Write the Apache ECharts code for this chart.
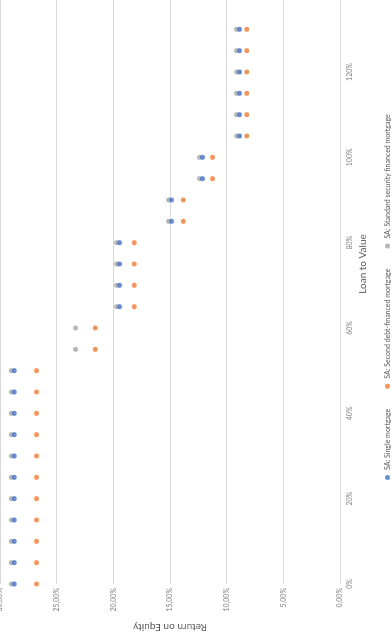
<!DOCTYPE html>
<html>
<head>
<meta charset="utf-8">
<script src="https://cdn.jsdelivr.net/npm/echarts@6/dist/echarts.min.js"></script>
<style>
  html, body { margin: 0; padding: 0; background: #ffffff; }
  body { width: 392px; height: 632px; overflow: hidden; position: relative; }
  /* chart is drawn landscape, then turned a quarter left like the reference */
  #chart {
    position: absolute; left: 0; top: 0;
    width: 700px; height: 392px;
    transform-origin: 0 0;
    transform: translateY(632px) rotate(-90deg);
  }
</style>
</head>
<body>
<div id="chart"></div>
<script>
// Loan to Value (%)
const ltv = [0, 5, 10, 15, 20, 25, 30, 35, 40, 45, 50, 55, 60, 65, 70, 75, 80, 85, 90, 95, 100, 105, 110, 115, 120, 125, 130];

// Return on Equity (%); '-' = no visible point
const singleMortgage = [28.75, 28.75, 28.75, 28.75, 28.75, 28.75, 28.75, 28.75, 28.75, 28.75, 28.75,
  '-', '-', 19.46, 19.46, 19.46, 19.46, 14.87, 14.87, 12.14, 12.14, 8.87, 8.87, 8.87, 8.87, 8.87, 8.87];
const secondDebt = [26.77, 26.77, 26.77, 26.77, 26.77, 26.77, 26.77, 26.77, 26.77, 26.77, 26.77,
  21.6, 21.6, 18.15, 18.15, 18.15, 18.15, 13.83, 13.83, 11.24, 11.24, 8.23, 8.23, 8.23, 8.23, 8.23, 8.23];
const standardSecurity = [29.0, 29.0, 29.0, 29.0, 29.0, 29.0, 29.0, 29.0, 29.0, 29.0, 29.0,
  23.33, 23.33, 19.73, 19.73, 19.73, 19.73, 15.13, 15.13, 12.4, 12.4, 9.13, 9.13, 9.13, 9.13, 9.13, 9.13];

const seriesNames = ['SA: Single mortgage', 'SA: Second debt-financed mortgage', 'SA: Standard security financed mortgage'];
const colors = ['#4472C4', '#ED7D31', '#A5A5A5'];

const pairs = (ys) => ltv.map((x, i) => [x, ys[i]]);

const fontFamily = '"Liberation Sans Narrow", Lato, "Open Sans", sans-serif';

const chart = echarts.init(document.getElementById('chart'), null, { renderer: 'canvas' });

chart.setOption({
  animation: false,
  color: colors,
  textStyle: { fontFamily: fontFamily },
  grid: { left: 48, top: 0, width: 640, height: 340, containLabel: false, outerBoundsMode: 'none' },
  legend: {
    left: 147,
    top: 379,
    itemWidth: 5,
    itemHeight: 5,
    itemGap: 20,
    icon: 'circle',
    textStyle: { color: '#595959', fontSize: 7, fontFamily: fontFamily },
    data: seriesNames,
  },
  xAxis: {
    type: 'value',
    min: 0,
    max: 150,
    interval: 20,
    name: 'Loan to Value',
    nameLocation: 'middle',
    nameGap: 17,
    nameTextStyle: { color: '#595959', fontSize: 10, fontFamily: fontFamily },
    axisLine: { show: true, lineStyle: { color: '#d9d9d9', width: 1 } },
    axisTick: { show: false },
    splitLine: { show: false },
    axisLabel: {
      color: '#7f7f7f',
      fontSize: 7,
      margin: 6,
      formatter: (v) => v + '%',
    },
  },
  yAxis: {
    type: 'value',
    min: 0,
    max: 30,
    interval: 5,
    name: 'Return on Equity',
    nameLocation: 'middle',
    nameGap: 33,
    nameRotate: 90,
    nameTextStyle: { color: '#595959', fontSize: 10, fontFamily: fontFamily },
    axisLine: { show: false },
    axisTick: { show: false },
    splitLine: { lineStyle: { color: '#d9d9d9', width: 1 } },
    axisLabel: {
      color: '#7f7f7f',
      fontSize: 7,
      margin: 4,
      formatter: (v) => v.toFixed(2).replace('.', ',') + '%',
    },
  },
  series: [
    {
      name: seriesNames[0],
      type: 'scatter',
      symbolSize: 5,
      z: 4,
      data: pairs(singleMortgage),
    },
    {
      name: seriesNames[1],
      type: 'scatter',
      symbolSize: 5,
      z: 3,
      data: pairs(secondDebt),
    },
    {
      name: seriesNames[2],
      type: 'scatter',
      symbolSize: 5,
      z: 2,
      data: pairs(standardSecurity),
    },
  ],
});
</script>
</body>
</html>
